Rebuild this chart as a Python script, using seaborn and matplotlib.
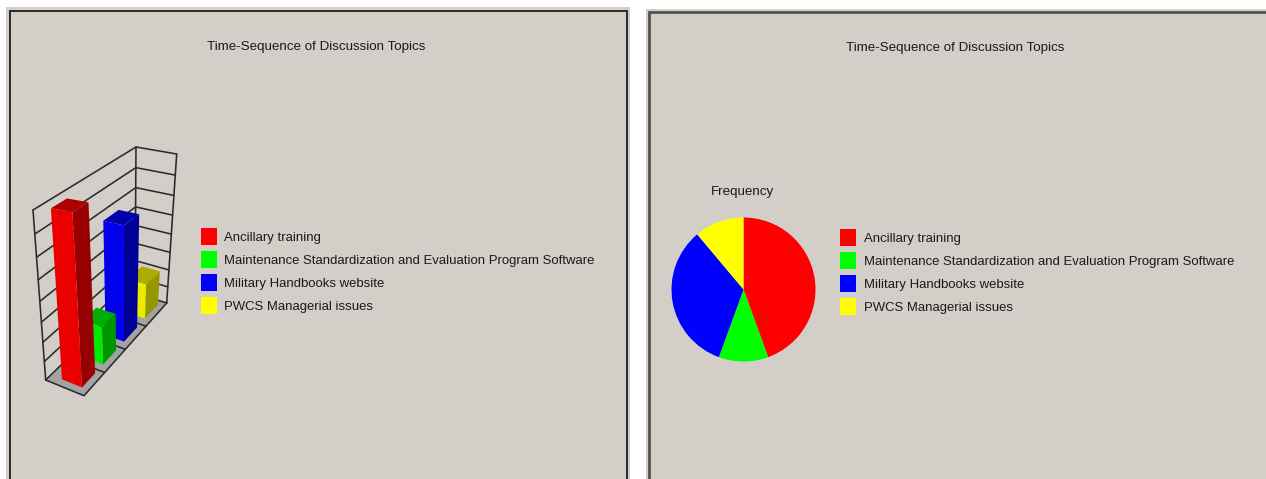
import numpy as np
import matplotlib
matplotlib.use("Agg")
import matplotlib.pyplot as plt
from matplotlib.patches import Rectangle, Polygon
import seaborn as sns

W, H = 1266, 479
TITLE = "Time-Sequence of Discussion Topics"
PIE_LABEL = "Frequency"
topics = ["Ancillary training",
          "Maintenance Standardization and Evaluation Program Software",
          "Military Handbooks website",
          "PWCS Managerial issues"]
frequency = [4, 1, 3, 1]
colors = ["#ff0000", "#00ff00", "#0000ff", "#ffff00"]
y_max = 4
y_step = 0.5

sns.set_theme(style="white")
plt.rcParams["font.family"] = ["Liberation Sans", "DejaVu Sans"]
palette = sns.color_palette(colors)
BG = "#d3cfc8"

fig = plt.figure(figsize=(W / 100, H / 100), dpi=100, facecolor="white")
canvas = fig.add_axes([0, 0, 1, 1])
canvas.set_xlim(0, W)
canvas.set_ylim(H, 0)
canvas.axis("off")

# panels
for x0, x1, y0, bx0, bx1, by, ec, lw in [(6, 630, 7, 10, 627, 11, "#2a2a28", 1.4),
                                         (646, 1266, 9, 649, 1266, 12, "#4c4c4a", 1.9)]:
    canvas.add_patch(Rectangle((x0, y0), x1 - x0, H - y0, fc=BG, ec="none", zorder=0))
    xs = [bx0, bx0, bx1] + ([bx1] if bx1 < W else [])
    ys = [H, by, by] + ([H] if bx1 < W else [])
    canvas.plot(xs, ys, color=ec, lw=lw, zorder=1, solid_joinstyle="miter")

TEXT = "#1a1a1a"
canvas.text(316, 47, TITLE, ha="center", va="center", fontsize=9.6, color=TEXT)
canvas.text(955.5, 48, TITLE, ha="center", va="center", fontsize=9.6, color=TEXT)
canvas.text(742, 192.5, PIE_LABEL, ha="center", va="center", fontsize=9.6, color=TEXT)


def legend(x, y0):
    for i, (name, c) in enumerate(zip(topics, palette)):
        y = y0 + i * 23
        canvas.add_patch(Rectangle((x, y - 8.5), 16, 17, fc=c, ec="none", zorder=2))
        canvas.text(x + 23.5, y + 1.2, name, ha="left", va="center", fontsize=9.45, color=TEXT)


legend(201, 236.5)
legend(840, 237.5)

# pie drawn through matplotlib's own pie on its own axes
r = 72
cx, cy = 743.5, 289.5
pie_ax = fig.add_axes([(cx - r) / W, 1 - (cy + r) / H, 2 * r / W, 2 * r / H])
pie_ax.pie(frequency, colors=palette, startangle=90, counterclock=False, radius=1,
           wedgeprops={"linewidth": 0, "edgecolor": "none"})
pie_ax.set_xlim(-1, 1)
pie_ax.set_ylim(-1, 1)
pie_ax.set_aspect("equal")
pie_ax.axis("off")

# pseudo-3D bar chart: a small projection of (u across, v depth, value)
F00, F10, F01, F11 = map(np.array, [(45.7, 380), (84, 395.7), (135, 293), (166.7, 303)])
T00, T10, T01, T11 = map(np.array, [(33, 210), (73.7, 217), (136, 147), (176.7, 154)])


def proj(u, v, val):
    h = val / y_max
    h = h * (0.85 + 0.15 * h)
    base = (1 - v) * ((1 - u) * F00 + u * F10) + v * ((1 - u) * F01 + u * F11)
    top = (1 - v) * ((1 - u) * T00 + u * T10) + v * ((1 - u) * T01 + u * T11)
    return tuple(base + h * (top - base))


LINE = "#2b2b2b"
GLW = 1.15
canvas.add_patch(Polygon([proj(0, 0, 0), proj(1, 0, 0), proj(1, 1, 0), proj(0, 1, 0)],
                         fc="#a3a3a3", ec="none", zorder=3))
n = len(topics)
for val in np.arange(0, y_max + y_step, y_step):
    canvas.plot(*zip(proj(0, 0, val), proj(0, 1, val), proj(1, 1, val)),
                color=LINE, lw=GLW, zorder=3)
for u, v in [(0, 0), (0, 1), (1, 1)]:
    canvas.plot(*zip(proj(u, v, 0), proj(u, v, y_max)), color=LINE, lw=GLW, zorder=3)
canvas.plot(*zip(proj(0, 0, 0), proj(1, 0, 0), proj(1, 1, 0)), color=LINE, lw=GLW, zorder=3)
for i in range(1, n):
    canvas.plot(*zip(proj(0, i / n, 0), proj(1, i / n, 0)), color=LINE, lw=GLW, zorder=3)


def shade(c, k):
    return tuple(k * np.array(c))


u0, u1 = 0.29, 0.82
half = 0.078
for i in reversed(range(n)):
    val, c = frequency[i], palette[i]
    vc = (i + 0.5) / n + 0.012
    v0, v1 = vc - half, vc + half
    z = 4 + (n - i)
    canvas.add_patch(Polygon([proj(u1, v0, 0), proj(u1, v1, 0), proj(u1, v1, val), proj(u1, v0, val)],
                             fc=shade(c, 0.59), ec="none", zorder=z))
    canvas.add_patch(Polygon([proj(u0, v0, val), proj(u1, v0, val), proj(u1, v1, val), proj(u0, v1, val)],
                             fc=shade(c, 0.68), ec="none", zorder=z))
    canvas.add_patch(Polygon([proj(u0, v0, 0), proj(u1, v0, 0), proj(u1, v0, val), proj(u0, v0, val)],
                             fc=shade(c, 0.92), ec="none", zorder=z))

fig.savefig("out.png", dpi=100, facecolor="white")
